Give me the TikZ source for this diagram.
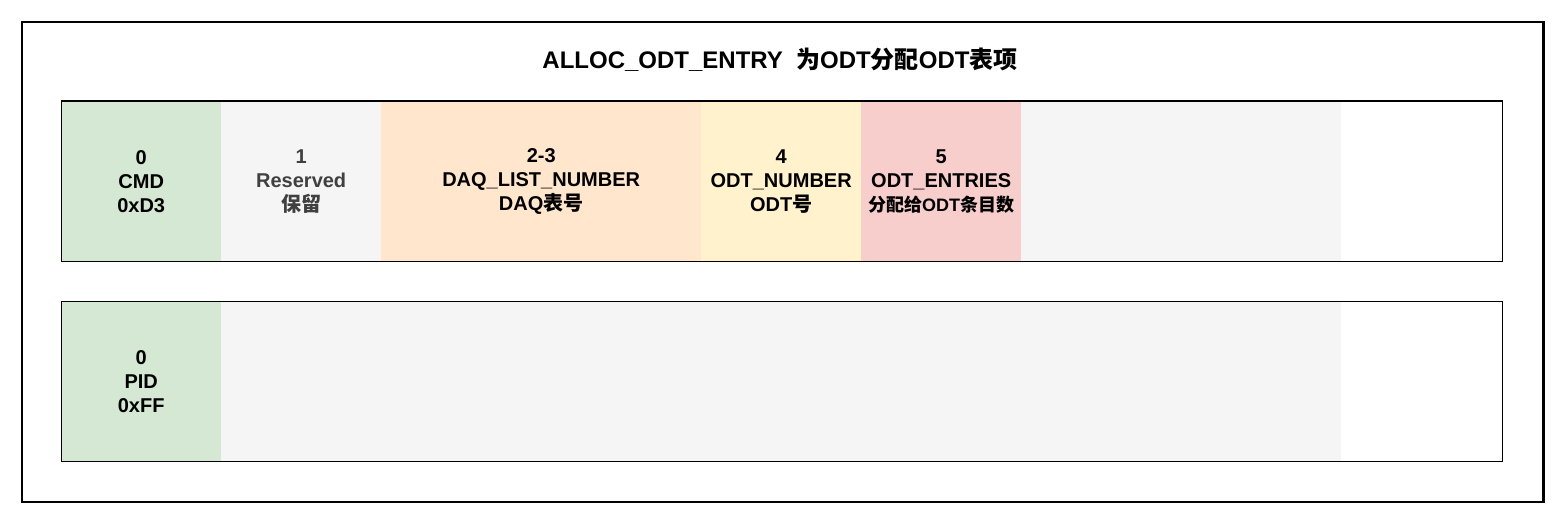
\documentclass[tikz,border=0pt]{standalone}
\usepackage{fontspec}
\setmainfont{Liberation Sans}
\newfontfamily\cjkfont{Noto Sans CJK SC}
\newcommand{\zh}[1]{{\cjkfont\bfseries #1}}
\definecolor{cgreen}{HTML}{D5E8D4}
\definecolor{cgray}{HTML}{F5F5F5}
\definecolor{corange}{HTML}{FFE6CC}
\definecolor{cyellow}{HTML}{FFF2CC}
\definecolor{cred}{HTML}{F8CECC}
\definecolor{ctextgray}{HTML}{404040}
\begin{document}
\begin{tikzpicture}[x=1pt,y=-1pt,
  cell/.style={draw=none, inner sep=0pt, minimum height=160.5pt, minimum width=160pt,
    anchor=north west, align=center, font=\fontsize{20}{24}\selectfont\bfseries},
  rowbox/.style={draw=black, line width=1.2pt, inner sep=0pt, minimum width=1441pt,
    minimum height=160.5pt, anchor=north west},
  framebox/.style={draw=black, line width=2.5pt, inner sep=0pt, minimum width=1521.5pt,
    minimum height=479.5pt, anchor=north west},
  titletext/.style={font=\fontsize{24}{28}\selectfont\bfseries, inner sep=0pt}]
\useasboundingbox[fill=white] (0,0) rectangle (1564,524);
% title
\node[titletext] (title) at (780,60) {ALLOC\_ODT\_ENTRY\ \ \zh{为}ODT\zh{分配}ODT\zh{表项}};
% row 1 cells
\node[cell, fill=cgreen] (c0) at (61,101) {0\\CMD\\0xD3};
\node[cell, fill=cgray, text=ctextgray] (c1) at (221,101) {1\\Reserved\\\zh{保留}};
\node[cell, fill=corange, minimum width=320pt] (c2) at (381,101) {2-3\\DAQ\_LIST\_NUMBER\\DAQ\zh{表号}};
\node[cell, fill=cyellow] (c4) at (701,101) {4\\ODT\_NUMBER\\ODT\zh{号}};
\node[cell, fill=cred] (c5) at (861,101) {5\\ODT\_ENTRIES\\{\fontsize{18}{24}\selectfont\zh{分配给}ODT\zh{条目数}}};
\node[cell, fill=cgray, minimum width=320pt] (c6) at (1021,101) {};
\node[rowbox] (row1) at (61,100.5) {};
% row 2 cells
\node[cell, fill=cgreen] (d0) at (61,301) {0\\PID\\0xFF};
\node[cell, fill=cgray, minimum width=1120pt] (d1) at (221,301) {};
\node[rowbox] (row2) at (61,300.5) {};
% outer frame
\node[framebox] (frame) at (20.5,21) {};
\end{tikzpicture}
\end{document}
